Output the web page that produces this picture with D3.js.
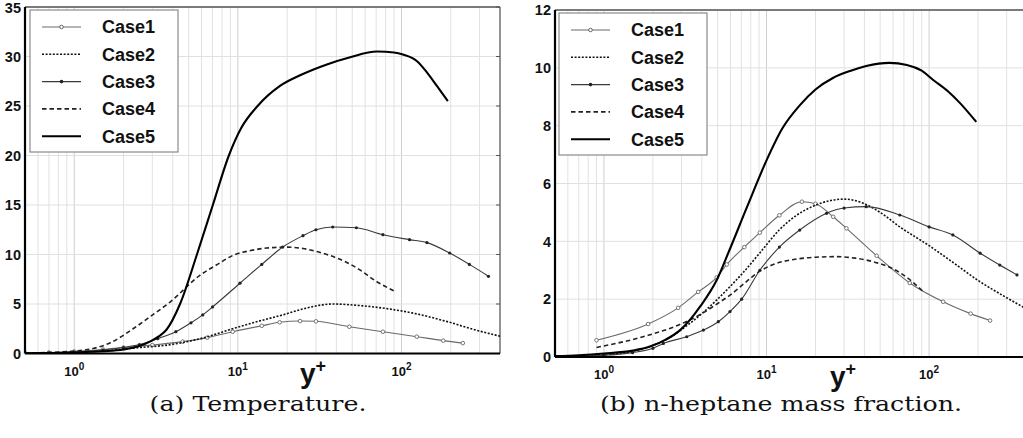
<!DOCTYPE html>
<html><head><meta charset="utf-8">
<script src="https://cdn.jsdelivr.net/npm/d3@7"></script>
<style>body{margin:0;background:#fff} svg{display:block}</style>
</head><body>
<svg id="c" width="1023" height="438"></svg>
<script>
// ---------- data ----------
const seriesNames = ["Case1","Case2","Case3","Case4","Case5"];
const tempTicks = [0,5,10,15,20,25,30,35];
const heptTicks = [0,2,4,6,8,10,12];
const xTickValues = [1,10,100];
const xDomain = [0.5,400];

// (a) Temperature  [y+, value]
const tempCase1 = [[0.5,0.05],[0.7,0.1],[1,0.2],[1.5,0.4],[2,0.6],[3,0.85],[4.6,1.2],[6.5,1.6],[9.3,2.2],[14,2.8],[18,3.15],[24,3.28],[30,3.25],[48,2.7],[77,2.2],[124,1.7],[180,1.3],[237,1.05]];
const tempCase2 = [[0.5,0.02],[0.7,0.05],[1,0.1],[1.5,0.25],[2,0.45],[2.5,0.6],[3.7,0.85],[5.9,1.5],[9.3,2.5],[13,3.2],[18.8,3.9],[25,4.5],[38,5.0],[55,4.85],[80,4.55],[124,4.0],[197,3.15],[280,2.4],[400,1.75]];
const tempCase3 = [[0.5,0.03],[0.7,0.06],[1,0.15],[1.5,0.35],[2,0.6],[2.5,0.9],[3.24,1.5],[4.18,2.2],[5.17,3.1],[6.1,3.9],[7,4.7],[10.3,7.1],[14,9.0],[18.8,10.75],[25,11.9],[30,12.5],[38,12.78],[53,12.7],[77,12.0],[112,11.5],[143,11.2],[197,10.15],[260,9.0],[340,7.8]];
const tempCase4 = [[0.5,0.05],[0.7,0.1],[1,0.25],[1.3,0.5],[1.65,1.06],[2.29,2.5],[2.9,3.7],[3.85,5.2],[5.86,7.9],[7.5,9.0],[9.3,9.9],[12,10.4],[15,10.65],[20,10.75],[25,10.6],[35,10.0],[45,9.3],[55,8.5],[70,7.3],[93,6.2]];
const tempCase5 = [[0.5,0.02],[0.7,0.05],[1,0.1],[1.5,0.22],[2,0.4],[2.5,0.75],[2.9,1.2],[3.3,1.75],[3.66,2.4],[4.43,5],[5.62,10],[7.03,15],[8.81,20],[10.5,22.8],[13.2,25],[18,27],[24,28.1],[35,29.2],[48,29.9],[71,30.5],[90,30.4],[102,30.2],[125,29.5],[143,28.4],[165,27],[192,25.5]];

// (b) n-heptane mass fraction  [y+, value]
const heptCase1 = [[0.9,0.58],[1.87,1.14],[2.86,1.7],[3.8,2.25],[4.94,2.75],[5.7,3.2],[7.3,3.8],[9.1,4.3],[12,4.9],[16.5,5.37],[20,5.3],[25.7,4.85],[31,4.45],[47.6,3.5],[76,2.56],[122,1.91],[180,1.5],[237,1.26]];
const heptCase2 = [[0.5,0.02],[1,0.08],[1.5,0.2],[2,0.4],[2.5,0.65],[3,0.95],[4,1.5],[5,2.0],[6,2.45],[7,2.85],[9.1,3.6],[12,4.4],[15.3,4.9],[20,5.25],[30,5.46],[40,5.3],[50,5.0],[66,4.5],[100,3.85],[134,3.35],[206,2.6],[300,2.05],[400,1.65]];
const heptCase3 = [[0.5,0.02],[1,0.06],[1.5,0.15],[2,0.3],[2.32,0.47],[3.23,0.7],[4.09,0.93],[5.05,1.22],[5.96,1.57],[7.03,2.0],[9.1,3.0],[12,3.8],[16,4.39],[23.4,4.97],[30,5.15],[41,5.2],[66,4.91],[100,4.5],[140,4.22],[206,3.59],[272,3.18],[347,2.84]];
const heptCase4 = [[0.9,0.33],[1.87,0.75],[2.86,1.1],[4,1.5],[5,1.85],[6,2.15],[7.5,2.6],[9,2.95],[11,3.2],[15,3.38],[20,3.45],[27,3.47],[35,3.42],[45,3.3],[60,3.05],[75,2.7],[92,2.26]];
const heptCase5 = [[0.5,0.03],[0.7,0.06],[1,0.12],[1.5,0.22],[1.92,0.36],[2.4,0.6],[2.94,0.93],[3.4,1.3],[3.9,1.74],[4.94,2.66],[5.82,3.6],[7.6,5.2],[10,6.8],[12.5,7.9],[16,8.7],[20,9.25],[25.6,9.65],[33,9.9],[41,10.06],[57,10.17],[73,10.1],[90,9.9],[106,9.58],[130,9.2],[155,8.78],[195,8.13]];

// ---------- styles ----------
const styles = {
  Case1:{stroke:"#6a6a6a", width:1.1, dash:null, marker:"open"},
  Case2:{stroke:"#111", width:1.6, dash:"2,1.6", marker:null},
  Case3:{stroke:"#3a3a3a", width:1.1, dash:null, marker:"dot"},
  Case4:{stroke:"#222", width:1.6, dash:"4.5,3", marker:null},
  Case5:{stroke:"#000", width:2.1, dash:null, marker:null}
};

const panels = [
  {id:"a", series:[tempCase1,tempCase2,tempCase3,tempCase4,tempCase5], yDomain:[0,35], yTicks:tempTicks,
   xRange:[25,500], yRange:[353.5,7], legend:{x:30,y:10}, caption:"(a) Temperature.", captionX:258, captionW:217, yLabelX:313},
  {id:"b", series:[heptCase1,heptCase2,heptCase3,heptCase4,heptCase5], yDomain:[0,12], yTicks:heptTicks,
   xRange:[555,1027], yRange:[357,10], legend:{x:559,y:13}, caption:"(b) n-heptane mass fraction.", captionX:781, captionW:362, yLabelX:843}
];

const svg = d3.select("#c");
const sans = "'Liberation Sans', Arial, Helvetica, sans-serif";

panels.forEach(p => {
  const x = d3.scaleLog().domain(xDomain).range(p.xRange);
  const y = d3.scaleLinear().domain(p.yDomain).range(p.yRange);
  const g = svg.append("g");
  const [x0,x1] = p.xRange, [yb,yt] = p.yRange;

  svg.append("clipPath").attr("id","clip"+p.id).append("rect")
    .attr("x",x0).attr("y",yt).attr("width",x1-x0).attr("height",yb-yt);

  // vertical grid (log minor)
  const minor = x.ticks().filter(v => v>=xDomain[0] && v<=xDomain[1]);
  g.append("g").selectAll("line").data(minor).join("line")
    .attr("x1",d=>x(d)).attr("x2",d=>x(d)).attr("y1",yt).attr("y2",yb)
    .attr("stroke",d=> xTickValues.includes(d) ? "#cfcfcf" : "#e2e2e2").attr("stroke-width",1);
  // horizontal grid
  g.append("g").selectAll("line").data(p.yTicks).join("line")
    .attr("x1",x0).attr("x2",x1).attr("y1",d=>y(d)).attr("y2",d=>y(d))
    .attr("stroke","#e0e0e0").attr("stroke-width",1);

  // frame top/right
  g.append("line").attr("x1",x0).attr("x2",x1).attr("y1",yt).attr("y2",yt).attr("stroke","#555").attr("stroke-width",1.5);
  g.append("line").attr("x1",x1).attr("x2",x1).attr("y1",yt).attr("y2",yb).attr("stroke","#555").attr("stroke-width",1.2);
  g.append("g").selectAll("line").data(p.yTicks).join("line")
    .attr("x1",x1).attr("x2",x1-4).attr("y1",d=>y(d)).attr("y2",d=>y(d)).attr("stroke","#555");

  // series
  const line = d3.line().x(d=>x(d[0])).y(d=>y(d[1])).curve(d3.curveMonotoneX);
  const sg = g.append("g").attr("clip-path","url(#clip"+p.id+")");
  p.series.forEach((data,i) => {
    const s = styles[seriesNames[i]];
    sg.append("path").datum(data).attr("d",line).attr("fill","none")
      .attr("stroke",s.stroke).attr("stroke-width",s.width)
      .attr("stroke-dasharray",s.dash).attr("stroke-linejoin","round");
    if (s.marker==="open") {
      sg.append("g").selectAll("circle").data(data).join("circle")
        .attr("cx",d=>x(d[0])).attr("cy",d=>y(d[1])).attr("r",1.8)
        .attr("fill","#fff").attr("stroke","#666").attr("stroke-width",0.9);
    } else if (s.marker==="dot") {
      sg.append("g").selectAll("circle").data(data).join("circle")
        .attr("cx",d=>x(d[0])).attr("cy",d=>y(d[1])).attr("r",1.6)
        .attr("fill","#222");
    }
  });

  // axes left & bottom
  g.append("line").attr("x1",x0).attr("x2",x1).attr("y1",yb).attr("y2",yb).attr("stroke","#000").attr("stroke-width",2.2);
  g.append("line").attr("x1",x0).attr("x2",x0).attr("y1",yt).attr("y2",yb).attr("stroke","#000").attr("stroke-width",2.2);

  // y tick labels
  g.append("g").selectAll("text").data(p.yTicks).join("text")
    .attr("x",x0-4).attr("y",d=>Math.max(y(d),8)).attr("dy","0.36em").attr("text-anchor","end")
    .attr("font-family",sans).attr("font-weight","bold").attr("font-size",14.5).attr("fill","#111")
    .text(d=>d);

  // x tick labels 10^k
  const xt = g.append("g").selectAll("text").data(xTickValues).join("text")
    .attr("x",d=>x(d)).attr("y",yb+22).attr("text-anchor","middle")
    .attr("font-family",sans).attr("font-weight","bold").attr("font-size",13).attr("fill","#111");
  xt.append("tspan").text("10");
  xt.append("tspan").attr("dy",-6).attr("font-size",10).text(d=>Math.round(Math.log10(d)));

  // y+ label
  const yl = g.append("text").attr("x",p.yLabelX).attr("y",yb+29).attr("text-anchor","middle")
    .attr("font-family",sans).attr("font-weight","bold").attr("font-size",28).attr("fill","#111");
  yl.append("tspan").text("y");
  yl.append("tspan").attr("dy",-11).attr("font-size",18).text("+");

  // caption
  g.append("text").attr("x",p.captionX - p.captionW/2).attr("y",411)
    .attr("font-family","'DejaVu Serif', serif").attr("font-size",20).attr("fill","#111")
    .attr("textLength",p.captionW).attr("lengthAdjust","spacingAndGlyphs")
    .text(p.caption);

  // legend
  const L = g.append("g").attr("transform",`translate(${p.legend.x},${p.legend.y})`);
  L.append("rect").attr("width",148).attr("height",142).attr("fill","#fff").attr("stroke","#8a8a8a").attr("stroke-width",1.2);
  seriesNames.forEach((name,i) => {
    const s = styles[name];
    const cy = 17 + i*27.3;
    L.append("line").attr("x1",12).attr("x2",51).attr("y1",cy).attr("y2",cy)
      .attr("stroke",s.stroke).attr("stroke-width",s.width).attr("stroke-dasharray",s.dash);
    if (s.marker==="open") L.append("circle").attr("cx",31.5).attr("cy",cy).attr("r",1.8).attr("fill","#fff").attr("stroke","#666");
    if (s.marker==="dot") L.append("circle").attr("cx",31.5).attr("cy",cy).attr("r",1.8).attr("fill","#222");
    L.append("text").attr("x",72).attr("y",cy).attr("dy","0.36em")
      .attr("font-family",sans).attr("font-weight","bold").attr("font-size",18).attr("fill","#111").text(name);
  });
});
</script>
</body></html>
